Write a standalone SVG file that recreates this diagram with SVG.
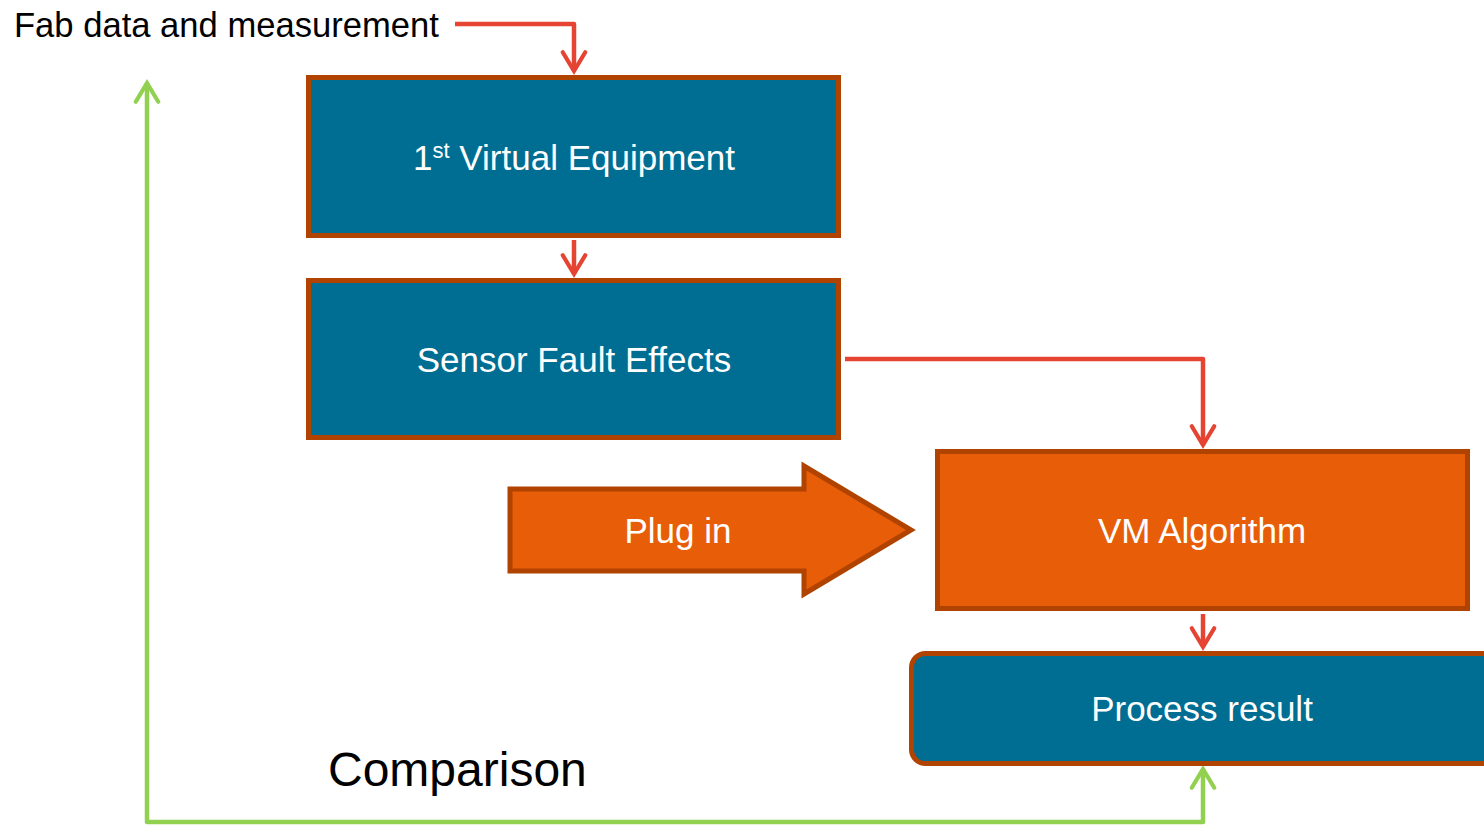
<svg xmlns="http://www.w3.org/2000/svg" width="1484" height="825" viewBox="0 0 1484 825">
<style>
.box{fill:#006e93;stroke:#b04300;stroke-width:5}
.obox{fill:#e85d07;stroke:#b04300;stroke-width:5}
.t{font-family:"Liberation Sans",Arial,sans-serif;font-size:35px;fill:#ffffff;text-anchor:middle}
.k{font-family:"Liberation Sans",Arial,sans-serif;fill:#000000}
.red{fill:none;stroke:#e64433;stroke-width:4.5;stroke-linejoin:round}
.green{fill:none;stroke:#92d050;stroke-width:4.5;stroke-linejoin:round}
</style>
<defs>
<marker id="ar" markerUnits="userSpaceOnUse" markerWidth="30" markerHeight="30" viewBox="-24 -16 28 32" refX="0" refY="0" orient="auto">
<path d="M-20,-12 L0,0 L-20,12" fill="none" stroke="#e64433" stroke-width="4.5" stroke-linecap="round" stroke-linejoin="miter"/>
</marker>
<marker id="ag" markerUnits="userSpaceOnUse" markerWidth="30" markerHeight="30" viewBox="-24 -16 28 32" refX="0" refY="0" orient="auto-start-reverse">
<path d="M-20,-12 L0,0 L-20,12" fill="none" stroke="#92d050" stroke-width="4.5" stroke-linecap="round" stroke-linejoin="miter"/>
</marker>
</defs>
<rect width="1484" height="825" fill="#ffffff"/>
<g id="connectors">
<path class="red" d="M455,24 H574 V71" marker-end="url(#ar)"/>
<path class="red" d="M574,240 V274" marker-end="url(#ar)"/>
<path class="red" d="M845,359 H1203 V445" marker-end="url(#ar)"/>
<path class="red" d="M1203,614 V647" marker-end="url(#ar)"/>
<path class="green" d="M147,83 V822 H1203 V769" marker-start="url(#ag)" marker-end="url(#ag)"/>
</g>
<g id="fab-label">
<text class="k" x="14" y="37" font-size="34.6">Fab data and measurement</text>
</g>
<g id="virtual-equipment">
<rect class="box" x="308.5" y="77.5" width="530" height="158"/>
<text class="t" x="574" y="170">1<tspan font-size="22" dy="-12">st</tspan><tspan dy="12"> Virtual Equipment</tspan></text>
</g>
<g id="sensor-fault">
<rect class="box" x="308.5" y="280.5" width="530" height="157"/>
<text class="t" x="574" y="372">Sensor Fault Effects</text>
</g>
<g id="plug-in">
<path class="obox" d="M510,489 H804 V466 L911,530 L804,594 V571 H510 Z"/>
<text class="t" x="678" y="543">Plug in</text>
</g>
<g id="vm-algorithm">
<rect class="obox" x="937.5" y="451.5" width="530" height="157"/>
<text class="t" x="1202" y="543">VM Algorithm</text>
</g>
<g id="process-result">
<rect class="box" x="911.5" y="653.5" width="610" height="110" rx="14"/>
<text class="t" x="1202" y="721">Process result</text>
</g>
<g id="comparison">
<text class="k" x="328" y="786" font-size="48">Comparison</text>
</g>
</svg>
